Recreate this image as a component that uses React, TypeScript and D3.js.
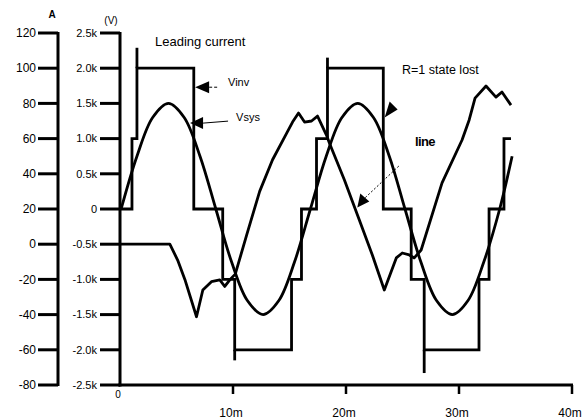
import React from "react";
import * as d3 from "d3";

// ---- Data (time in ms) ----
const timeTicks = [0, 10, 20, 30, 40];
const timeTickLabels = ["0", "10m", "20m", "30m", "40m"];
const ampTicks = [120, 100, 80, 60, 40, 20, 0, -20, -40, -60, -80];
const voltTicks = [2500, 2000, 1500, 1000, 500, 0, -500, -1000, -1500, -2000, -2500];
const voltTickLabels = ["2.5k", "2.0k", "1.5k", "1.0k", "0.5k", "0", "-0.5k", "-1.0k", "-1.5k", "-2.0k", "-2.5k"];

// Inverter staircase voltage Vinv [t ms, V]
const vinvPoints: [number, number][] = [
  [0, 0], [1.06, 0], [1.06, 1000], [1.5, 1000], [1.5, 2000], [6.53, 2000], [6.53, 0],
  [9.09, 0], [9.09, -1000], [10.15, -1000], [10.15, -2000], [15.18, -2000], [15.18, -1000],
  [16.06, -1000], [16.06, 0], [17.39, 0], [17.39, 1000], [18.36, 1000], [18.36, 2000],
  [23.3, 2000], [23.3, 0], [25.77, 0], [25.77, -1000], [26.92, -1000], [26.92, -2000],
  [31.77, -2000], [31.77, -1000], [32.66, -1000], [32.66, 0], [33.98, 0], [33.98, 1000], [34.6, 1000],
];
// switching spikes [t, from V, to V]
const vinvSpikes: [number, number, number][] = [
  [1.5, 2000, 2290], [10.15, -2000, -2150], [18.36, 2000, 2150], [26.92, -2000, -2330],
];

// System voltage Vsys [t ms, V]
const vsysPoints: [number, number][] = [
  [0.1, 0], [1.5, 750], [2.89, 1300], [4.29, 1500], [5.68, 1300], [7.08, 750], [8.48, 0],
  [9.87, -750], [11.27, -1300], [12.66, -1500], [14.06, -1300], [15.45, -750], [16.85, 0],
  [18.25, 750], [19.64, 1300], [21.04, 1500], [22.43, 1300], [23.83, 750], [25.22, 0],
  [26.62, -750], [28.01, -1300], [29.41, -1500], [30.8, -1300], [32.2, -750], [33.6, 0], [34.7, 750],
];

// Line current [t ms, A]
const currentPoints: [number, number][] = [
  [0, 0], [4.41, 0], [5.1, -9], [5.74, -20], [6.77, -41.2], [7.33, -26], [8.09, -21.3],
  [8.83, -20.3], [9.27, -24], [9.75, -20], [10.2, -17], [11.2, 5], [12.36, 30], [13.5, 48],
  [14.74, 63], [15.27, 69.4], [15.8, 74.5], [16.33, 69.4], [16.95, 70], [17.48, 72.8],
  [18.27, 62], [18.53, 57.5], [19.86, 36.5], [21.18, 13.75], [22.33, -6.1], [23.39, -26],
  [24.45, -7.8], [24.98, -5], [25.6, -6.1], [26.04, -7.8], [26.65, -3.3], [28.5, 34.8],
  [30.27, 59.2], [30.9, 70.6], [31.42, 83], [32.39, 89.9], [33.27, 83.6], [33.8, 86.5], [34.6, 79],
];

const FONT = "'Liberation Sans', Arial, sans-serif";

export default function App() {
  const x = d3.scaleLinear().domain([0, 40]).range([120, 572]);
  const yV = d3.scaleLinear().domain([-2500, 2500]).range([385, 33]);
  const yA = d3.scaleLinear().domain([-80, 120]).range([385, 33]);

  const lineV = d3.line<[number, number]>().x((d) => x(d[0])).y((d) => yV(d[1]));
  const lineVs = d3
    .line<[number, number]>()
    .x((d) => x(d[0]))
    .y((d) => yV(d[1]))
    .curve(d3.curveCatmullRom.alpha(0.5));
  const lineA = d3.line<[number, number]>().x((d) => x(d[0])).y((d) => yA(d[1]));

  const sw = 2.8;
  const tri = (tx: number, ty: number, bx1: number, by1: number, bx2: number, by2: number) =>
    `M${tx},${ty}L${bx1},${by1}L${bx2},${by2}Z`;

  // annotation anchors in data units
  const vinvTip: [number, number] = [6.65, 1730];
  const vsysTip: [number, number] = [6.2, 1220];
  const rTip: [number, number] = [23.42, 1300];
  const lineTip: [number, number] = [21.0, 20];

  return (
    <svg
      width={582}
      height={419}
      style={{ position: "absolute", left: 0, top: 0, background: "#fff" }}
      fontFamily={FONT}
    >
      <rect width={582} height={419} fill="#fff" />
      {/* curves */}
      <path d={lineA(currentPoints) || ""} fill="none" stroke="#000" strokeWidth={sw} strokeLinejoin="round" />
      <path d={lineVs(vsysPoints) || ""} fill="none" stroke="#000" strokeWidth={sw} />
      <path d={lineV(vinvPoints) || ""} fill="none" stroke="#000" strokeWidth={sw} strokeLinejoin="miter" />
      {vinvSpikes.map((s, i) => (
        <line key={i} x1={x(s[0])} x2={x(s[0])} y1={yV(s[1])} y2={yV(s[2])} stroke="#000" strokeWidth={sw} />
      ))}

      {/* left axis (A) */}
      <line x1={58} x2={58} y1={yA(120) - 1} y2={yA(-80) + 1} stroke="#000" strokeWidth={3} />
      {ampTicks.map((t) => (
        <g key={"a" + t}>
          <line x1={38} x2={58} y1={yA(t)} y2={yA(t)} stroke="#000" strokeWidth={3} />
          <text x={36} y={yA(t)} dy="0.35em" textAnchor="end" fontSize={12}>
            {t}
          </text>
        </g>
      ))}
      <text x={52} y={18} textAnchor="middle" fontSize={10} fontWeight="bold">A</text>

      {/* right axis (V) */}
      <line x1={120} x2={120} y1={yV(2500) - 1} y2={yV(-2500) + 1.5} stroke="#000" strokeWidth={3} />
      {voltTicks.map((t, i) => (
        <g key={"v" + t}>
          <line x1={100} x2={120} y1={yV(t)} y2={yV(t)} stroke="#000" strokeWidth={3} />
          <text x={97} y={yV(t)} dy="0.35em" textAnchor="end" fontSize={11}>
            {voltTickLabels[i]}
          </text>
        </g>
      ))}
      <text x={111} y={24} textAnchor="middle" fontSize={10}>(V)</text>

      {/* x axis */}
      <line x1={118.5} x2={573} y1={385} y2={385} stroke="#000" strokeWidth={3} />
      {timeTicks.map((t, i) => (
        <g key={"t" + t}>
          {t > 0 && <line x1={x(t)} x2={x(t)} y1={385} y2={394} stroke="#000" strokeWidth={2.5} />}
          <text
            x={t === 0 ? x(t) - 2 : x(t) - 2}
            y={t === 0 ? 398 : 417}
            textAnchor="middle"
            fontSize={t === 0 ? 10 : 12}
          >
            {timeTickLabels[i]}
          </text>
        </g>
      ))}

      {/* annotations */}
      <text x={x(3.1)} y={yV(2320)} fontSize={13}>Leading current</text>
      <text x={x(9.56)} y={yV(1750)} fontSize={11}>Vinv</text>
      <text x={x(10.27)} y={yV(1250)} fontSize={11}>Vsys</text>
      <text x={x(24.96)} y={yV(1920)} fontSize={12.5}>R=1 state lost</text>
      <text x={x(26.1)} y={yV(900)} fontSize={13} fontWeight="bold" letterSpacing={-0.6}>line</text>

      {/* Vinv arrow */}
      <path
        d={tri(x(vinvTip[0]), yV(vinvTip[1]), x(vinvTip[0]) + 14, yV(vinvTip[1]) - 6, x(vinvTip[0]) + 14, yV(vinvTip[1]) + 6)}
        fill="#000"
      />
      <line x1={x(vinvTip[0]) + 14} x2={x(vinvTip[0]) + 24} y1={yV(vinvTip[1])} y2={yV(vinvTip[1])} stroke="#000" strokeWidth={1} strokeDasharray="3,2" />
      {/* Vsys arrow */}
      <path
        d={tri(x(vsysTip[0]), yV(vsysTip[1]), x(vsysTip[0]) + 13, yV(vsysTip[1]) - 6, x(vsysTip[0]) + 13, yV(vsysTip[1]) + 6)}
        fill="#000"
      />
      <line x1={x(vsysTip[0]) + 13} x2={x(vsysTip[0]) + 38} y1={yV(vsysTip[1])} y2={yV(vsysTip[1]) - 2} stroke="#000" strokeWidth={1} />
      {/* R=1 arrow */}
      <path
        d={tri(x(rTip[0]), yV(rTip[1]), x(rTip[0]) + 5, yV(rTip[1]) - 16, x(rTip[0]) + 13, yV(rTip[1]) - 8)}
        fill="#000"
      />
      {/* line arrow */}
      <path
        d={tri(x(lineTip[0]), yV(lineTip[1]) , x(lineTip[0]) + 3, yV(lineTip[1]) - 14, x(lineTip[0]) + 12, yV(lineTip[1]) - 6)}
        fill="#000"
      />
      <line
        x1={x(lineTip[0]) + 8}
        y1={yV(lineTip[1]) - 10}
        x2={x(lineTip[0]) + 42}
        y2={yV(lineTip[1]) - 42}
        stroke="#000"
        strokeWidth={1}
        strokeDasharray="2,2"
      />
    </svg>
  );
}
